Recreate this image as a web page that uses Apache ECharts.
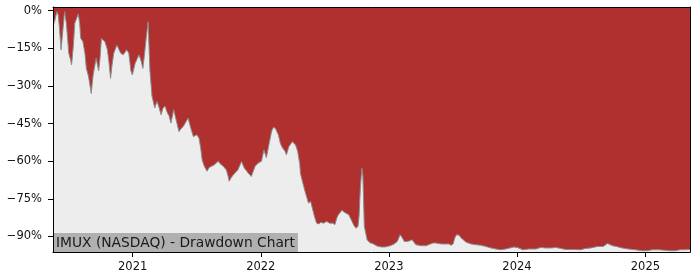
<!DOCTYPE html>
<html>
<head>
<meta charset="utf-8">
<script src="https://cdn.jsdelivr.net/npm/echarts@6/dist/echarts.min.js"></script>
<style>
html,body{margin:0;padding:0;background:#fff;}
#chart{width:700px;height:280px;}
</style>
</head>
<body>
<div id="chart"></div>
<script>
const chartTitle = "IMUX (NASDAQ) - Drawdown Chart";
const yTicks = [0, -15, -30, -45, -60, -75, -90];
const xTickDates = ["2021-01-01", "2022-01-01", "2023-01-01", "2024-01-01", "2025-01-01"];
const startDate = "2020-05-19";
const endDate = "2025-05-08";
const dates = [
"2020-05-19","2020-05-24","2020-05-30","2020-06-03","2020-06-07","2020-06-11","2020-06-16","2020-06-21","2020-06-26","2020-06-29",
"2020-07-03","2020-07-08","2020-07-11","2020-07-16","2020-07-20","2020-07-30","2020-08-03","2020-08-06","2020-08-12","2020-08-18",
"2020-08-22","2020-08-28","2020-09-05","2020-09-10","2020-09-15","2020-09-19","2020-09-26","2020-09-30","2020-10-04","2020-10-08",
"2020-10-14","2020-10-21","2020-10-25","2020-10-30","2020-11-03","2020-11-08","2020-11-17","2020-11-28","2020-12-05","2020-12-15",
"2020-12-21","2020-12-27","2020-12-31","2021-01-08","2021-01-19","2021-01-25","2021-01-30","2021-02-03","2021-02-08","2021-02-14",
"2021-02-19","2021-02-25","2021-03-05","2021-03-11","2021-03-16","2021-03-23","2021-03-28","2021-04-03","2021-04-10","2021-04-15",
"2021-04-20","2021-04-28","2021-05-07","2021-05-13","2021-05-19","2021-05-25","2021-05-30","2021-06-08","2021-06-12","2021-06-17",
"2021-06-23","2021-07-03","2021-07-09","2021-07-14","2021-07-18","2021-07-24","2021-08-01","2021-08-07","2021-08-12","2021-08-21",
"2021-09-02","2021-09-07","2021-09-16","2021-09-25","2021-09-30","2021-10-03","2021-10-09","2021-10-15","2021-10-28","2021-11-07",
"2021-11-15","2021-11-26","2021-12-05","2021-12-16","2021-12-25","2022-01-03","2022-01-10","2022-01-17","2022-01-24","2022-02-01",
"2022-02-06","2022-02-12","2022-02-20","2022-02-26","2022-03-04","2022-03-11","2022-03-15","2022-03-22","2022-04-01","2022-04-10",
"2022-04-16","2022-04-22","2022-04-24","2022-05-01","2022-05-09","2022-05-17","2022-05-23","2022-05-27","2022-06-03","2022-06-09",
"2022-06-15","2022-06-21","2022-06-29","2022-07-08","2022-07-16","2022-07-25","2022-07-31","2022-08-06","2022-08-10","2022-08-20",
"2022-08-30","2022-09-09","2022-09-18","2022-09-23","2022-09-29","2022-10-05","2022-10-08","2022-10-12","2022-10-16","2022-10-19",
"2022-10-23","2022-10-31","2022-11-08","2022-11-17","2022-11-28","2022-12-10","2022-12-21","2023-01-05","2023-01-16","2023-01-25",
"2023-02-02","2023-02-08","2023-02-14","2023-02-22","2023-02-28","2023-03-08","2023-03-19","2023-04-03","2023-04-17","2023-04-26",
"2023-05-07","2023-05-15","2023-05-30","2023-06-21","2023-06-27","2023-07-03","2023-07-08","2023-07-13","2023-07-20","2023-07-26",
"2023-08-09","2023-08-23","2023-09-06","2023-09-20","2023-10-04","2023-10-19","2023-11-02","2023-11-16","2023-11-30","2023-12-15",
"2023-12-23","2024-01-04","2024-01-18","2024-02-04","2024-02-24","2024-03-09","2024-03-23","2024-04-07","2024-04-21","2024-05-05",
"2024-05-19","2024-06-10","2024-06-30","2024-07-14","2024-07-29","2024-08-17","2024-09-03","2024-09-15","2024-09-20","2024-09-29",
"2024-10-10","2024-10-27","2024-11-13","2024-12-03","2024-12-23","2025-01-06","2025-01-21","2025-02-07","2025-02-26","2025-03-13",
"2025-03-27","2025-04-10","2025-04-24","2025-05-08"
];
const drawdown = [
-6,-4,-0.4,-1.7,-8,-15.6,-8,-0.4,-5,-10,
-17,-19.6,-21.6,-14,-5,-1.3,-5,-11,-12.3,-17,
-23,-26,-33,-26,-22,-19,-24,-19,-11,-11,
-12.4,-15.6,-20,-27,-22,-17,-13.7,-17,-17.6,-15.6,
-17,-24,-25.6,-21,-17.6,-20,-23,-18.3,-11.7,-4.4,
-23.6,-34,-38.8,-36.2,-38,-41.5,-39,-38,-40.8,-42,
-44.8,-39.5,-44.8,-48.2,-47,-46.2,-45,-42.8,-45,-47.5,
-50.2,-49.5,-50.8,-55,-59.5,-62,-64,-62.5,-62,-61.5,
-60,-61,-62,-63.5,-66,-68,-66.5,-65.4,-63.4,-60.1,
-62.7,-64.7,-66.1,-62,-60.7,-60,-55.5,-58.6,-53.5,-48,
-46.5,-47,-49.5,-53,-54.7,-56,-57.5,-54.2,-52.2,-53.5,
-56,-61,-64.8,-68.8,-73,-76.7,-76,-76.5,-82,-84.7,
-85,-84.4,-84.7,-84,-84.7,-84.7,-85.3,-82.5,-81.4,-79.6,
-80.6,-81.4,-84,-85.5,-86.7,-86,-82,-70,-62.8,-66,
-86,-91.3,-92.5,-92.9,-93.8,-94.2,-94.2,-93.7,-93,-92,
-89.3,-90.5,-92,-92,-91.8,-91.3,-93.3,-93.7,-93.7,-93.2,
-92.6,-92.6,-93,-93,-93.5,-93,-90.5,-89.3,-89.5,-90.6,
-92.3,-93,-93.3,-93.5,-94,-94.6,-95,-95.3,-95,-94.5,
-94.2,-94.5,-95.3,-95,-95,-94.4,-94.6,-94.6,-94.4,-94.8,
-95.2,-95.2,-95.3,-94.8,-94.6,-94,-94,-92.8,-92.6,-93.7,
-94,-94.6,-95,-95.3,-95.7,-95.7,-95.3,-95.3,-95.5,-95.7,
-95.7,-95.3,-95.3,-95.2
];

function parseDate(s) { return new Date(s + "T00:00:00").getTime(); }
const seriesData = dates.map((d, i) => [parseDate(d), drawdown[i]]);
const xTicks = xTickDates.map(parseDate);
const FONT = "DejaVu Sans";

const chart = echarts.init(document.getElementById("chart"), null, {renderer: "canvas"});
chart.setOption({
  animation: false,
  backgroundColor: "#ffffff",
  title: {
    text: chartTitle,
    left: 53,
    top: 233,
    padding: [3, 3, 2, 3],
    backgroundColor: "#b0b0b0",
    textStyle: {fontFamily: FONT, fontSize: 13.8, fontWeight: "normal", color: "#1a1a1a", lineHeight: 14}
  },
  grid: {
    left: 53, top: 7, width: 637, height: 245,
    show: true, backgroundColor: "#ededed", borderWidth: 0
  },
  xAxis: [{
    type: "value",
    min: parseDate(startDate),
    max: parseDate(endDate),
    z: 10,
    axisLine: {show: true, onZero: false, lineStyle: {color: "#000", width: 1}},
    axisTick: {show: true, length: 5, lineStyle: {color: "#000", width: 1}, customValues: xTicks},
    axisLabel: {
      customValues: xTicks, margin: 9, color: "#111", fontFamily: FONT, fontSize: 11.5,
      formatter: v => String(new Date(v).getFullYear())
    },
    splitLine: {show: false}
  }, {
    type: "value",
    position: "top",
    min: parseDate(startDate),
    max: parseDate(endDate),
    z: 10,
    axisLine: {show: true, onZero: false, lineStyle: {color: "#000", width: 1}},
    axisTick: {show: false},
    axisLabel: {show: false},
    splitLine: {show: false}
  }],
  yAxis: [{
    type: "value",
    min: -96.2,
    max: 1.47,
    z: 10,
    axisLine: {show: true, onZero: false, lineStyle: {color: "#000", width: 1}},
    axisTick: {show: true, length: 5, lineStyle: {color: "#000", width: 1}, customValues: yTicks},
    axisLabel: {
      customValues: yTicks, margin: 11, color: "#111", fontFamily: FONT, fontSize: 11.5,
      formatter: v => (v === 0 ? "0%" : "\u2212" + Math.abs(v) + "%")
    },
    splitLine: {show: false}
  }, {
    type: "value",
    position: "right",
    min: -96.2,
    max: 1.47,
    z: 10,
    axisLine: {show: true, onZero: false, lineStyle: {color: "#000", width: 1}},
    axisTick: {show: false},
    axisLabel: {show: false},
    splitLine: {show: false}
  }],
  series: [{
    type: "line",
    xAxisIndex: 0,
    yAxisIndex: 0,
    data: seriesData,
    showSymbol: false,
    symbol: "none",
    lineStyle: {color: "#8c8c8c", width: 1},
    areaStyle: {color: "#b03030", opacity: 1, origin: "end"},
    z: 2
  }]
});
</script>
</body>
</html>
